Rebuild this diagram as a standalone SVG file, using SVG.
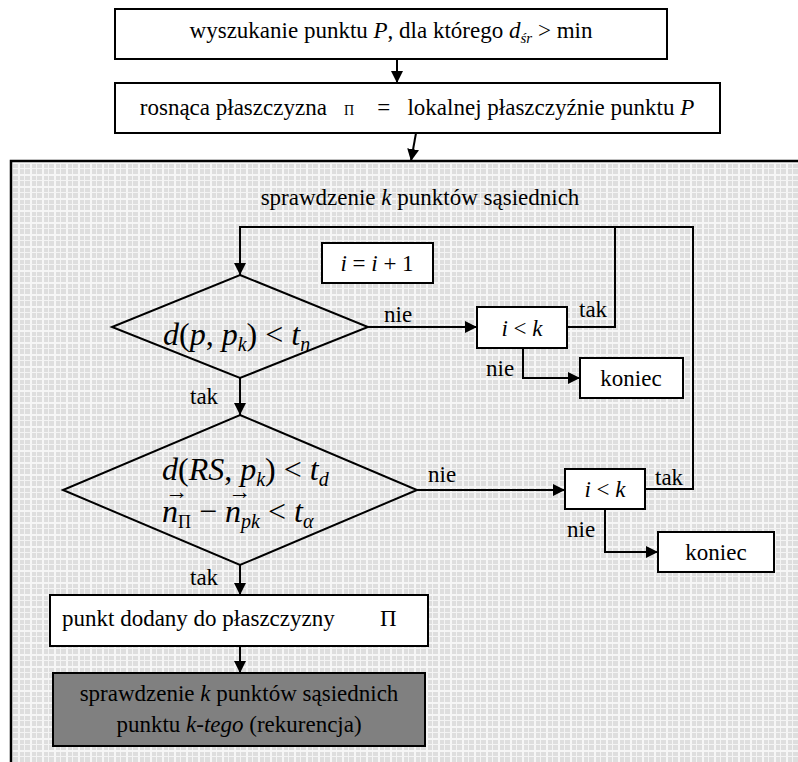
<svg xmlns="http://www.w3.org/2000/svg" width="798" height="762" viewBox="0 0 798 762" font-family="'Liberation Serif', 'Times New Roman', Tinos, 'DejaVu Serif', serif">
<defs>
<pattern id="grid" width="12" height="12" patternUnits="userSpaceOnUse">
<rect width="12" height="12" fill="#dedede"/>
<rect x="0" y="0" width="1" height="12" fill="#f4f4f4"/>
<rect x="6" y="0" width="2" height="12" fill="#f6f6f6"/>
<rect x="0" y="0" width="12" height="1" fill="#f4f4f4"/>
<rect x="0" y="6" width="12" height="2" fill="#f6f6f6"/>
</pattern>
<marker id="arr" viewBox="0 0 12 12" refX="12" refY="6" markerWidth="12" markerHeight="12" markerUnits="userSpaceOnUse" orient="auto">
<path d="M0,0 L12,6 L0,12 Z" fill="#000"/>
</marker>
</defs>
<style>
text{font-family:'Liberation Serif','Times New Roman',Tinos,'DejaVu Serif',serif;font-size:23px;fill:#000}
.i{font-style:italic}
.m{font-size:32px}
.s{font-size:20px;font-style:italic}
.box{fill:#fff;stroke:#000;stroke-width:2}
.dia{fill:none;stroke:#000;stroke-width:2}
.c{fill:none;stroke:#000;stroke-width:2}
.ca{fill:none;stroke:#000;stroke-width:2;marker-end:url(#arr)}
</style>

<g id="panel">
<rect x="11" y="161" width="800" height="620" fill="url(#grid)" stroke="#000" stroke-width="2.5"/>
<text x="420" y="205" text-anchor="middle">sprawdzenie <tspan class="i">k</tspan> punktów sąsiednich</text>
</g>

<g id="n1">
<rect class="box" x="115" y="9" width="552" height="50"/>
<text x="391" y="38" text-anchor="middle">wyszukanie punktu <tspan class="i">P</tspan>, dla którego <tspan class="i">d</tspan><tspan class="i" font-size="15" dy="5">śr</tspan><tspan dy="-5"> &gt; min</tspan></text>
</g>

<g id="n2">
<rect class="box" x="115" y="83" width="605" height="50"/>
<text x="417" y="115" text-anchor="middle" xml:space="preserve">rosnąca płaszczyzna   <tspan font-size="14">Π</tspan>    =   lokalnej płaszczyźnie punktu <tspan class="i">P</tspan></text>
</g>

<g id="n3">
<rect class="box" x="322" y="243" width="111" height="40"/>
<text x="377" y="271" text-anchor="middle" class="i">i<tspan font-style="normal"> = </tspan>i<tspan font-style="normal"> + 1</tspan></text>
</g>

<g id="d1">
<polygon class="dia" points="240,275 368,327 240,378 112,327"/>
<text x="163" y="345" class="m"><tspan class="i">d</tspan>(<tspan class="i">p</tspan>, <tspan class="i">p</tspan><tspan class="s" dy="6">k</tspan><tspan dy="-6">) &lt; </tspan><tspan class="i">t</tspan><tspan class="s" dy="6">n</tspan></text>
</g>

<g id="n4">
<rect class="box" x="477" y="307" width="90" height="41"/>
<text x="522" y="336" text-anchor="middle" class="i">i<tspan font-style="normal"> &lt; </tspan>k</text>
</g>

<g id="n5">
<rect class="box" x="580" y="358" width="103" height="40"/>
<text x="631" y="386" text-anchor="middle">koniec</text>
</g>

<g id="d2">
<polygon class="dia" points="240,415 417,490 240,565 63,490"/>
<text x="162" y="480" class="m"><tspan class="i">d</tspan>(<tspan class="i">RS</tspan>, <tspan class="i">p</tspan><tspan class="s" dy="6">k</tspan><tspan dy="-6">) &lt; </tspan><tspan class="i">t</tspan><tspan class="s" dy="6">d</tspan></text>
<text x="162" y="522" class="m"><tspan class="i">n</tspan><tspan font-size="18" dy="6">Π</tspan><tspan dy="-6"> − </tspan><tspan class="i">n</tspan><tspan class="s" dy="6">pk</tspan><tspan dy="-6"> &lt; </tspan><tspan class="i">t</tspan><tspan class="s" dy="6">α</tspan></text>
<text x="165" y="499" font-size="14">→</text>
<text x="228" y="499" font-size="14">→</text>
</g>

<g id="n6">
<rect class="box" x="565" y="469" width="80" height="40"/>
<text x="605" y="497" text-anchor="middle" class="i">i<tspan font-style="normal"> &lt; </tspan>k</text>
</g>

<g id="n7">
<rect class="box" x="658" y="532" width="116" height="40"/>
<text x="716" y="560" text-anchor="middle">koniec</text>
</g>

<g id="n8">
<rect class="box" x="50" y="595" width="378" height="51"/>
<text x="62" y="626">punkt dodany do płaszczyzny</text>
<text x="380" y="626">Π</text>
</g>

<g id="n9">
<rect x="53" y="673" width="372" height="73" fill="#808080" stroke="#000" stroke-width="2"/>
<text x="239" y="701" text-anchor="middle">sprawdzenie <tspan class="i">k</tspan> punktów sąsiednich</text>
<text x="239" y="732" text-anchor="middle">punktu <tspan class="i">k-tego</tspan> (rekurencja)</text>
</g>

<g id="connectors">
<line class="ca" x1="397" y1="59" x2="397" y2="83"/>
<line class="ca" x1="416" y1="133" x2="411" y2="161"/>
<polyline class="ca" points="645,489 693,489 693,227 240,227 240,275"/>
<polyline class="c" points="567,327 615,327 615,227"/>
<line class="ca" x1="368" y1="327" x2="477" y2="327"/>
<polyline class="ca" points="523,348 523,378 580,378"/>
<line class="ca" x1="240" y1="378" x2="240" y2="415"/>
<line class="ca" x1="417" y1="490" x2="565" y2="490"/>
<polyline class="ca" points="605,509 605,552 658,552"/>
<line class="ca" x1="240" y1="565" x2="240" y2="595"/>
<line class="ca" x1="240" y1="646" x2="240" y2="673"/>
<text x="384" y="322">nie</text>
<text x="579" y="317">tak</text>
<text x="486" y="376">nie</text>
<text x="190" y="404">tak</text>
<text x="428" y="482">nie</text>
<text x="655" y="485">tak</text>
<text x="567" y="537">nie</text>
<text x="190" y="585">tak</text>
</g>
</svg>
